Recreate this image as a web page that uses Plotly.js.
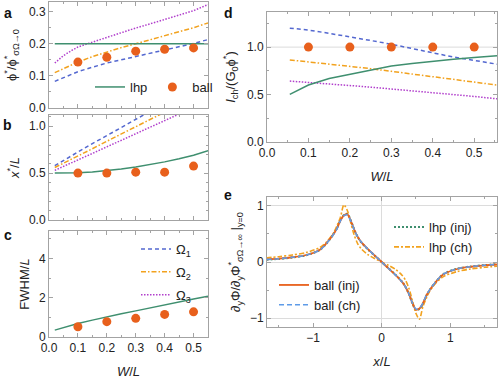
<!DOCTYPE html>
<html>
<head>
<meta charset="utf-8">
<script src="https://cdn.plot.ly/plotly-3.0.1.min.js"></script>
<style>
  html, body { margin: 0; padding: 0; background: #fff; }
  #plot { width: 498px; height: 384px; }
</style>
</head>
<body>
<div id="plot"></div>
<script>
// W/L grid for the model curves (panels a-c)
let wGrid = [0.02, 0.05, 0.08, 0.1, 0.15, 0.2, 0.25, 0.3, 0.35, 0.4, 0.45, 0.5, 0.55]
let ballW = [0.1, 0.2, 0.3, 0.4, 0.5]

// panel a: phi* / phi*(sigma->0)
let lhp_a = [0.2, 0.2, 0.2, 0.2, 0.2, 0.2, 0.2, 0.2, 0.2, 0.2, 0.2, 0.2, 0.2]
let om1_a = [0.083, 0.095, 0.105, 0.113, 0.127, 0.14, 0.15, 0.16, 0.17, 0.18, 0.19, 0.201, 0.213]
let om2_a = [0.11, 0.123, 0.135, 0.143, 0.16, 0.175, 0.188, 0.2, 0.212, 0.224, 0.236, 0.25, 0.265]
let om3_a = [0.14, 0.163, 0.18, 0.19, 0.205, 0.22, 0.235, 0.249, 0.262, 0.276, 0.29, 0.303, 0.322]
let ball_a = [0.143, 0.158, 0.177, 0.183, 0.187]

// panel b: x*/L
let lhp_b = [0.5, 0.5, 0.502, 0.505, 0.512, 0.525, 0.543, 0.565, 0.59, 0.62, 0.653, 0.69, 0.74]
let om1_b = [0.58, 0.635, 0.69, 0.725, 0.815, 0.9, 0.99, 1.08, 1.16, 1.24, 1.32, 1.4, 1.48]
let om2_b = [0.56, 0.605, 0.65, 0.68, 0.76, 0.84, 0.92, 1.0, 1.08, 1.15, 1.22, 1.29, 1.36]
let om3_b = [0.53, 0.57, 0.61, 0.64, 0.71, 0.78, 0.85, 0.92, 0.99, 1.06, 1.13, 1.2, 1.27]
let ball_b = [0.5, 0.5, 0.51, 0.51, 0.575]

// panel c: FWHM/L
let lhp_c = [0.35, 0.48, 0.6, 0.69, 0.86, 1.03, 1.18, 1.33, 1.49, 1.65, 1.8, 1.94, 2.08]
let ball_c = [0.52, 0.78, 0.95, 1.15, 1.28]

// panel d: I_ch/(G0 phi*)
let dW = [0.055, 0.1, 0.15, 0.2, 0.25, 0.3, 0.35, 0.4, 0.45, 0.5, 0.555]
let om1_d = [1.2, 1.18, 1.145, 1.11, 1.07, 1.03, 0.985, 0.94, 0.895, 0.86, 0.82]
let om2_d = [0.865, 0.845, 0.823, 0.8, 0.773, 0.745, 0.718, 0.69, 0.66, 0.63, 0.6]
let om3_d = [0.642, 0.625, 0.61, 0.595, 0.578, 0.56, 0.54, 0.52, 0.5, 0.48, 0.455]
let lhp_d = [0.502, 0.6, 0.67, 0.716, 0.76, 0.8, 0.828, 0.853, 0.873, 0.89, 0.908]
let ball_d = [1, 1, 1, 1, 1]

// panel e: normalized field profiles vs x/L
let xE = [-1.68, -1.5, -1.3, -1.1, -0.9, -0.8, -0.7, -0.65, -0.6, -0.55, -0.5, -0.45, -0.4, -0.35, -0.3, -0.2, -0.1, 0,
  0.1, 0.2, 0.3, 0.35, 0.4, 0.45, 0.5, 0.55, 0.6, 0.65, 0.7, 0.8, 0.9, 1.1, 1.3, 1.5, 1.68]
let lhpInj = [0.04, 0.055, 0.08, 0.12, 0.215, 0.335, 0.5, 0.605, 0.75, 0.84, 0.86, 0.745, 0.58, 0.45, 0.355, 0.225, 0.112, 0,
  -0.112, -0.225, -0.355, -0.45, -0.58, -0.745, -0.86, -0.84, -0.75, -0.605, -0.5, -0.335, -0.215, -0.12, -0.08, -0.055, -0.04]
let lhpCh = [0.075, 0.095, 0.125, 0.17, 0.26, 0.36, 0.52, 0.65, 0.8, 1.02, 0.92, 0.7, 0.48, 0.33, 0.24, 0.13, 0.06, 0,
  -0.06, -0.13, -0.24, -0.33, -0.48, -0.7, -0.92, -1.02, -0.8, -0.65, -0.52, -0.36, -0.26, -0.17, -0.125, -0.095, -0.075]
let ballInj = [0.045, 0.06, 0.085, 0.125, 0.22, 0.34, 0.5, 0.6, 0.74, 0.83, 0.85, 0.74, 0.58, 0.45, 0.36, 0.23, 0.115, 0,
  -0.115, -0.23, -0.36, -0.45, -0.58, -0.74, -0.85, -0.83, -0.74, -0.6, -0.5, -0.34, -0.22, -0.125, -0.085, -0.06, -0.045]
let ballCh = [0.043, 0.058, 0.083, 0.122, 0.215, 0.335, 0.495, 0.595, 0.735, 0.825, 0.84, 0.735, 0.578, 0.45, 0.36, 0.23, 0.115, 0,
  -0.115, -0.23, -0.36, -0.45, -0.578, -0.735, -0.84, -0.825, -0.735, -0.595, -0.495, -0.335, -0.215, -0.122, -0.083, -0.058, -0.043]

let green = "#3f8f6f"
let orange = "#e8601c"
let c1 = "#5468d0"
let c2 = "#f2a21e"
let c3 = "#b13fcc"
let lightBlue = "#5e9be8"

// short Mathematica-like dash patterns
let dash1 = "4px,3px"
let dash2 = "5px,2px,1.5px,2px"
let dash3 = "1.5px,1.5px"

function line(x, y, xa, ya, color, dash, name, legend, extra) {
  return Object.assign({
    x: x, y: y, xaxis: xa, yaxis: ya, type: "scatter", mode: "lines",
    line: {color: color, width: 1.5, dash: dash}, name: name,
    showlegend: !!legend, legend: legend || "legend"
  }, extra || {})
}
function dots(x, y, xa, ya, name, legend) {
  return {
    x: x, y: y, xaxis: xa, yaxis: ya, type: "scatter", mode: "markers",
    marker: {color: orange, size: 9}, name: name,
    showlegend: !!legend, legend: legend || "legend"
  }
}

let data = [
  // a
  line(wGrid, om1_a, "x", "y", c1, dash1, "Ω<sub>1</sub>", "legend2", {legendgroup: "g1"}),
  line(wGrid, om2_a, "x", "y", c2, dash2, "Ω<sub>2</sub>", "legend2", {legendgroup: "g2"}),
  line(wGrid, om3_a, "x", "y", c3, dash3, "Ω<sub>3</sub>", "legend2", {legendgroup: "g3"}),
  line(wGrid, lhp_a, "x", "y", green, "solid", "lhp", "legend"),
  dots(ballW, ball_a, "x", "y", "ball", "legend"),
  // b
  line(wGrid, om1_b, "x2", "y2", c1, dash1),
  line(wGrid, om2_b, "x2", "y2", c2, dash2),
  line(wGrid, om3_b, "x2", "y2", c3, dash3),
  line(wGrid, lhp_b, "x2", "y2", green, "solid"),
  dots(ballW, ball_b, "x2", "y2"),
  // c
  line(wGrid, lhp_c, "x3", "y3", green, "solid"),
  dots(ballW, ball_c, "x3", "y3"),
  // d
  line(dW, om1_d, "x4", "y4", c1, dash1),
  line(dW, om2_d, "x4", "y4", c2, dash2),
  line(dW, om3_d, "x4", "y4", c3, dash3),
  line(dW, lhp_d, "x4", "y4", green, "solid"),
  dots(ballW, ball_d, "x4", "y4"),
  // e
  line(xE, lhpInj, "x5", "y5", green, "dot", "lhp (inj)", "legend3", {line: {color: green, width: 2, dash: "2px,2px", shape: "spline", smoothing: 0.8}}),
  line(xE, lhpCh, "x5", "y5", c2, "dashdot", "lhp (ch)", "legend3", {line: {color: c2, width: 1.6, dash: "5px,2px,2px,2px", shape: "spline", smoothing: 0.8}}),
  line(xE, ballInj, "x5", "y5", orange, "solid", "ball (inj)", "legend4", {line: {color: orange, width: 1.8, shape: "spline", smoothing: 0.8}}),
  line(xE, ballCh, "x5", "y5", lightBlue, "dash", "ball (ch)", "legend4", {line: {color: lightBlue, width: 1.5, dash: "5px,3px", shape: "spline", smoothing: 0.8}})
]

let frame = "#a3a3a3"
function ax(extra) {
  return Object.assign({
    showline: true, linecolor: frame, linewidth: 1, mirror: "ticks",
    ticks: "inside", ticklen: 4, tickcolor: frame, showgrid: false, zeroline: false,
    tickfont: {size: 12, color: "#222"}, fixedrange: true
  }, extra)
}
function minor(d) { return {ticks: "inside", ticklen: 2, tickcolor: frame, dtick: d} }
let tf = {size: 13, color: "#222"}

let X0 = 49 / 498, X1 = 208 / 498, D0 = 267 / 498, D1 = 497 / 498
function yd(top, bot) { return [1 - bot / 384, 1 - top / 384] }

let layout = {
  width: 498, height: 384,
  margin: {l: 0, r: 0, t: 0, b: 0},
  paper_bgcolor: "#fff", plot_bgcolor: "#fff",
  font: {family: "Liberation Sans, Arial, sans-serif", size: 12, color: "#222"},
  xaxis: ax({domain: [X0, X1], anchor: "y", range: [0, 0.55], dtick: 0.1, showticklabels: false, minor: minor(0.05)}),
  yaxis: ax({domain: yd(2, 108), anchor: "x", range: [0, 0.33], dtick: 0.1, tickformat: ".1f", minor: minor(0.05),
    title: {text: "ϕ<sup>*</sup>/ϕ<sup>*</sup><sub>σΩ→0</sub>", font: tf, standoff: 9}}),
  xaxis2: ax({domain: [X0, X1], anchor: "y2", range: [0, 0.55], dtick: 0.1, showticklabels: false, minor: minor(0.05)}),
  yaxis2: ax({domain: yd(115, 220), anchor: "x2", range: [0, 1.12], dtick: 0.5, tickformat: ".1f", minor: minor(0.1),
    title: {text: "<i>x</i><sup>*</sup>/<i>L</i>", font: tf, standoff: 6}}),
  xaxis3: ax({domain: [X0, X1], anchor: "y3", range: [0, 0.55], dtick: 0.1, tickformat: ".1f", minor: minor(0.05),
    title: {text: "<i>W</i>/<i>L</i>", font: tf, standoff: 12}}),
  yaxis3: ax({domain: yd(231, 337), anchor: "x3", range: [0, 5.4], dtick: 2, minor: minor(1),
    title: {text: "FWHM/<i>L</i>", font: tf, standoff: 6}}),
  xaxis4: ax({domain: [D0, D1], anchor: "y4", range: [0, 0.555], dtick: 0.1, tickformat: ".1f", minor: minor(0.05),
    title: {text: "<i>W</i>/<i>L</i>", font: tf, standoff: 12}}),
  yaxis4: ax({domain: yd(12, 142), anchor: "x4", range: [0, 1.37], dtick: 0.5, tickformat: ".1f", minor: minor(0.25),
    title: {text: "<i>I</i><sub>ch</sub>/(G<sub>0</sub>ϕ<sup>*</sup>)", font: tf, standoff: 8}}),
  xaxis5: ax({domain: [D0, D1], anchor: "y5", range: [-1.67, 1.68], dtick: 1, minor: minor(0.5),
    zeroline: true, zerolinecolor: "#dcdcdc", zerolinewidth: 1,
    title: {text: "<i>x</i>/<i>L</i>", font: tf, standoff: 12}}),
  yaxis5: ax({domain: yd(197, 327), anchor: "x5", range: [-1.16, 1.16], dtick: 1, minor: minor(0.5),
    showgrid: true, gridcolor: "#dcdcdc",
    title: {text: "∂<sub>y</sub>Φ/∂<sub>y</sub>Φ<sup>*</sup><sub>σΩ→∞</sub> |<sub>y=0</sub>", font: tf, standoff: 6}}),
  shapes: [
    {type: "line", xref: "x4 domain", x0: 0, x1: 1, yref: "y4", y0: 1, y1: 1, layer: "below",
      line: {color: "#dcdcdc", width: 1}}
  ],
  legend: {x: 90 / 498, y: 1 - 87 / 384, xanchor: "left", yanchor: "middle", orientation: "h",
    bgcolor: "rgba(0,0,0,0)", font: {size: 13}, itemwidth: 30},
  legend2: {x: 136 / 498, y: 1 - 234 / 384, xanchor: "left", yanchor: "top",
    bgcolor: "rgba(0,0,0,0)", font: {size: 13}, itemwidth: 30, traceorder: "grouped", tracegroupgap: 3},
  legend3: {x: 389 / 498, y: 1 - 212 / 384, xanchor: "left", yanchor: "top",
    bgcolor: "rgba(0,0,0,0)", font: {size: 13}, itemwidth: 30},
  legend4: {x: 274 / 498, y: 1 - 270 / 384, xanchor: "left", yanchor: "top",
    bgcolor: "rgba(0,0,0,0)", font: {size: 13}, itemwidth: 30},
  annotations: [
    {text: "<b>a</b>", x: 8 / 498, y: 1 - 13 / 384},
    {text: "<b>b</b>", x: 8 / 498, y: 1 - 125 / 384},
    {text: "<b>c</b>", x: 8 / 498, y: 1 - 235 / 384},
    {text: "<b>d</b>", x: 228 / 498, y: 1 - 13 / 384},
    {text: "<b>e</b>", x: 228 / 498, y: 1 - 195 / 384}
  ].map(a => Object.assign(a, {xref: "paper", yref: "paper", showarrow: false,
    xanchor: "center", yanchor: "middle", font: {size: 14, color: "#111"}}))
}

Plotly.newPlot("plot", data, layout, {displayModeBar: false, staticPlot: true})
</script>
</body>
</html>
